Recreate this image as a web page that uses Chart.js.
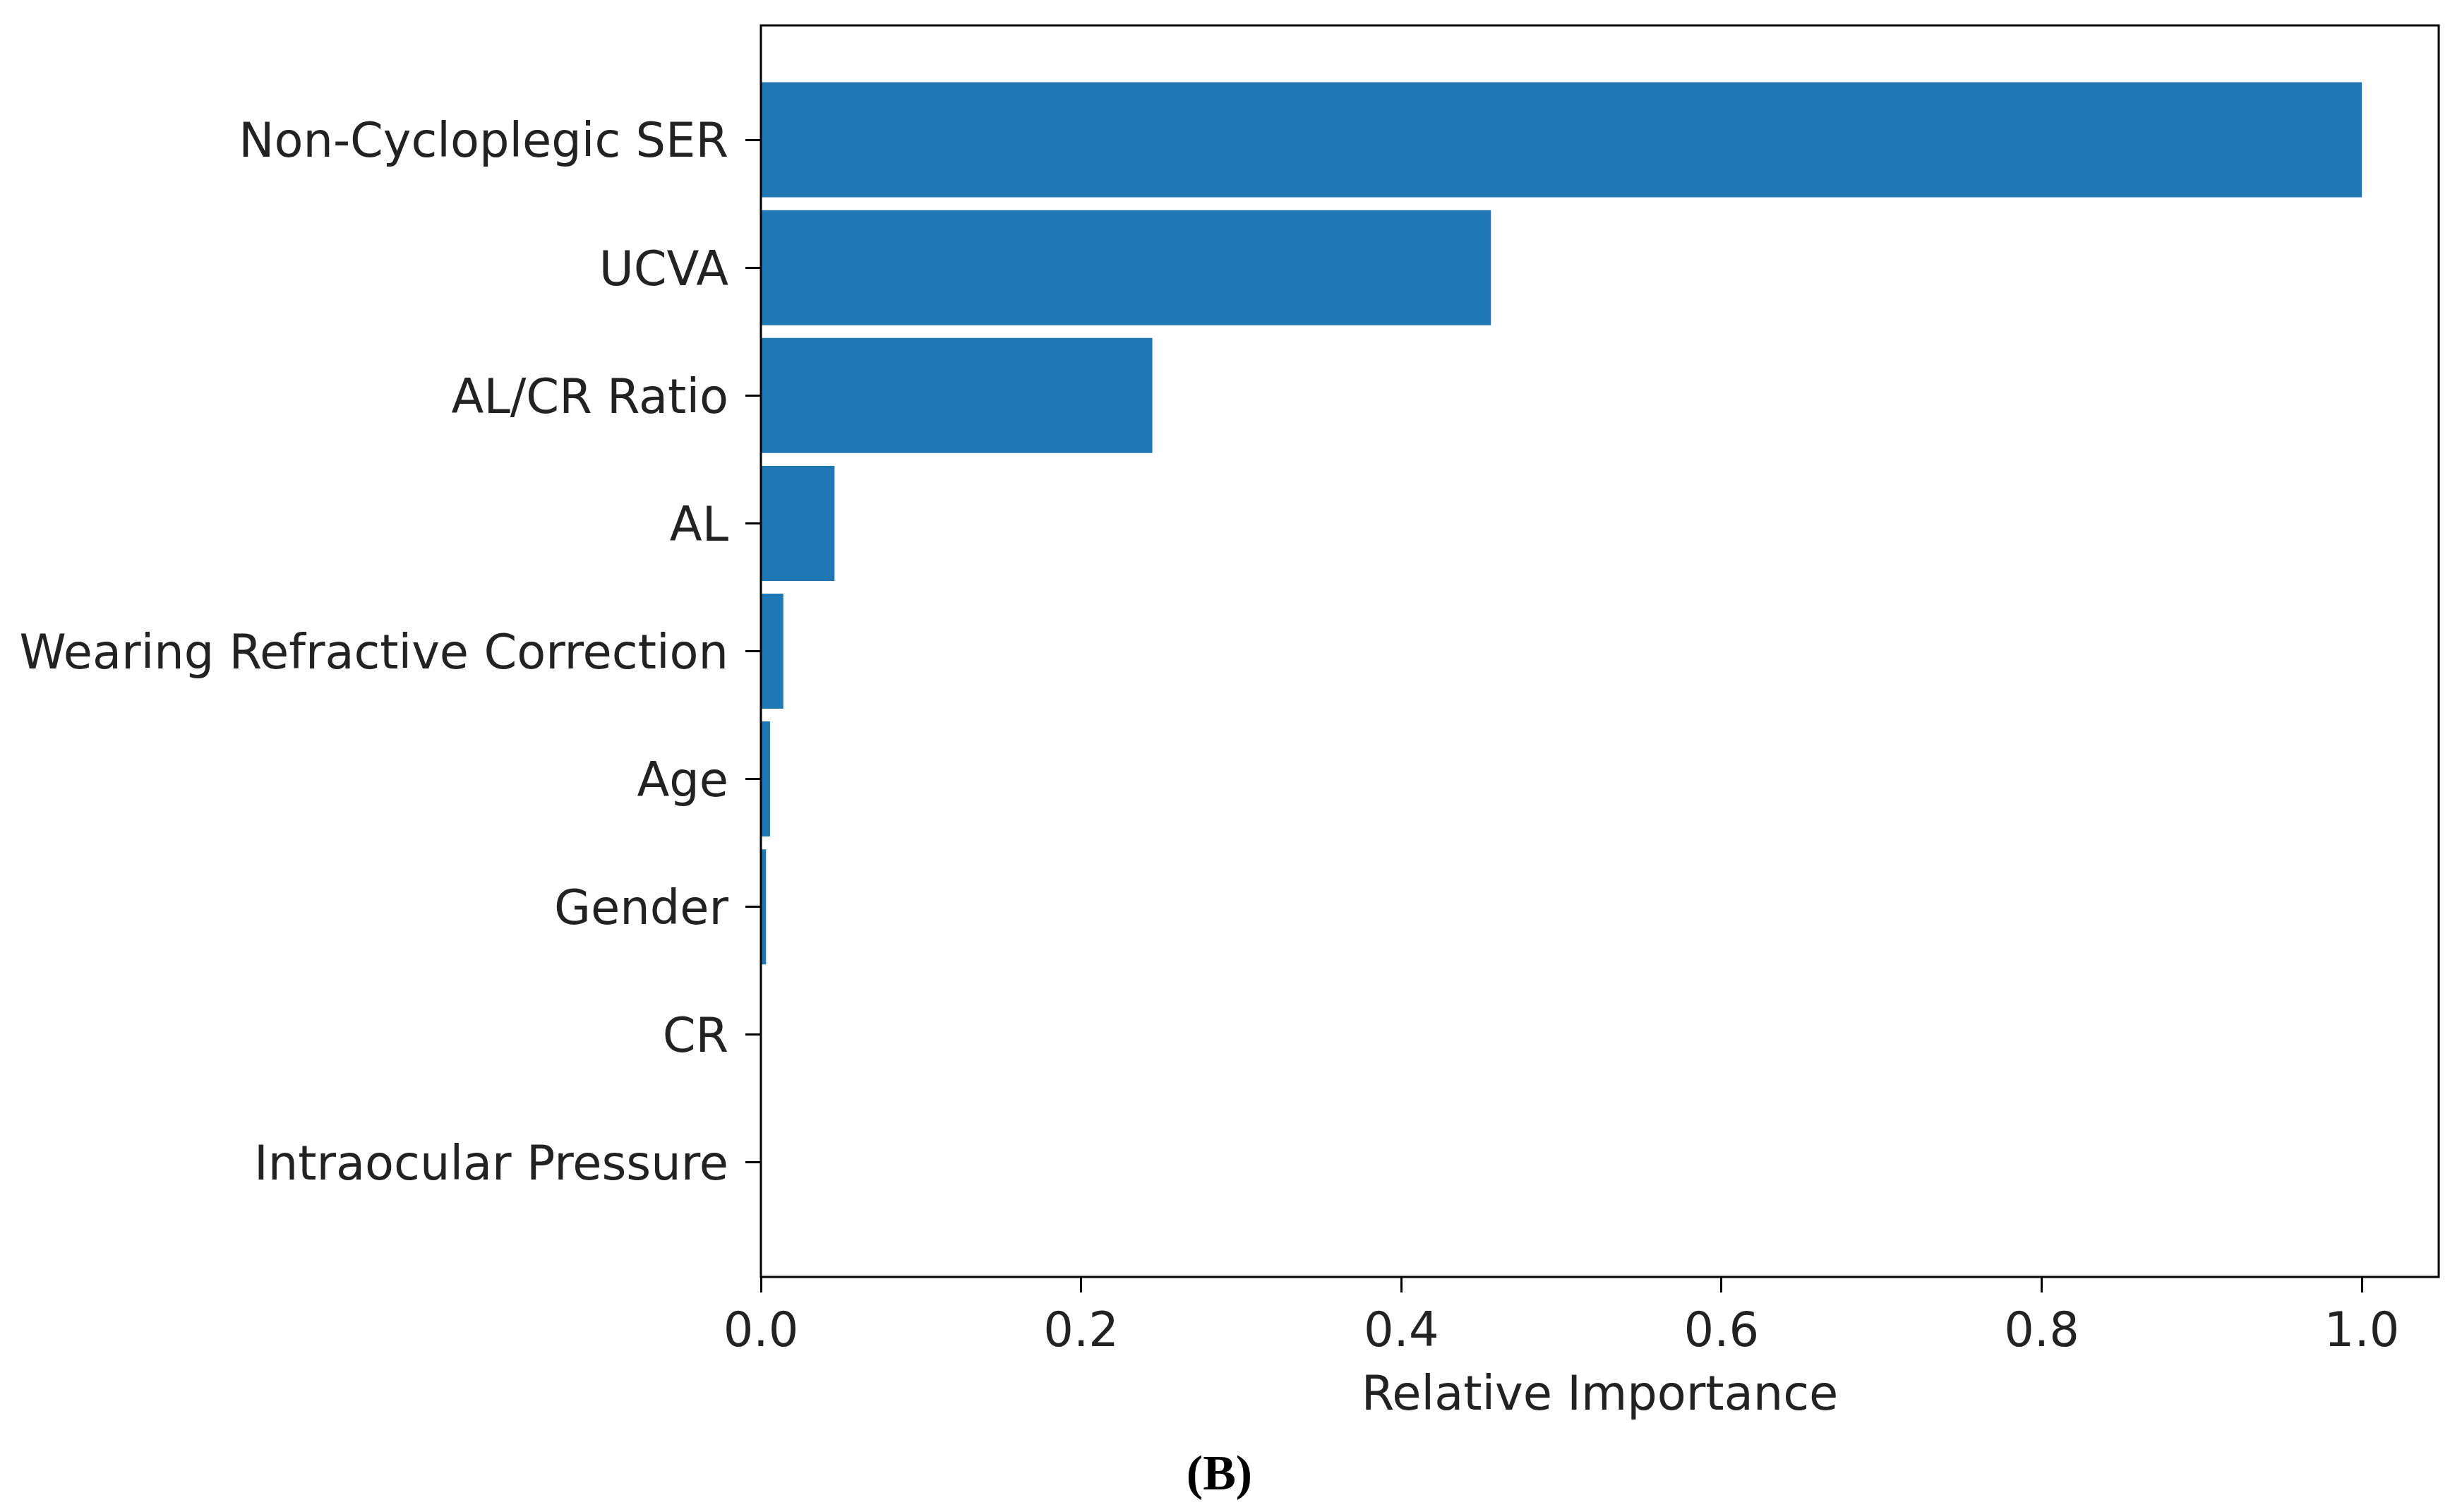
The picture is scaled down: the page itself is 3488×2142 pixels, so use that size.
<!DOCTYPE html>
<html lang="en">
<head>
  <meta charset="UTF-8">
  <title>Relative Importance</title>
  <script src="https://cdn.jsdelivr.net/npm/chart.js"></script>
  <style>
    html, body { margin: 0; padding: 0; background: #fff; }
    #wrap { width: 3488px; height: 2142px; }
  </style>
</head>
<body>
  <div id="wrap"><canvas id="chart"></canvas></div>
  <script>
    // data
    const features = [
      'Non-Cycloplegic SER', 'UCVA', 'AL/CR Ratio', 'AL',
      'Wearing Refractive Correction', 'Age', 'Gender', 'CR', 'Intraocular Pressure'
    ];
    const importance = [1.0, 0.456, 0.2445, 0.046, 0.014, 0.0057, 0.0032, 0.0, 0.0];
    const xTicks = [0, 0.2, 0.4, 0.6, 0.8, 1.0];

    const FONT = 'DejaVu Sans';
    const fs = 67;

    // box around plot, like matplotlib spines
    const frame = {
      id: 'frame',
      afterDraw(chart) {
        const { ctx, chartArea: a } = chart;
        ctx.save();
        ctx.strokeStyle = '#000';
        ctx.lineWidth = 3;
        ctx.strokeRect(a.left, a.top, a.right - a.left, a.bottom - a.top);
        ctx.restore();
      }
    };

    new Chart(document.getElementById('chart'), {
      type: 'bar',
      data: {
        datasets: [{
          data: importance.map((v, i) => ({ x: v, y: i })),
          backgroundColor: '#1f77b4',
          borderWidth: 0,
          categoryPercentage: 1.0,
          barPercentage: 0.9
        }]
      },
      options: {
        indexAxis: 'y',
        responsive: true,
        maintainAspectRatio: false,
        animation: false,
        layout: { padding: { top: 36, right: 33, left: 0, bottom: 0 } },
        scales: {
          x: {
            type: 'linear',
            min: 0,
            max: 1.048,
            afterBuildTicks: s => { s.ticks = xTicks.map(v => ({ value: v })); },
            afterFit: s => { s.height = 241; s.paddingLeft = 0; s.paddingRight = 0; },
            grid: { drawOnChartArea: false, drawTicks: true, tickLength: 22, tickWidth: 3, tickColor: '#000' },
            border: { display: false },
            ticks: {
              padding: 18,
              color: '#222',
              font: { family: FONT, size: fs },
              callback: v => v.toFixed(1)
            },
            title: {
              display: true,
              text: 'Relative Importance',
              color: '#222',
              font: { family: FONT, size: fs },
              padding: { top: 0, bottom: 30 }
            }
          },
          y: {
            type: 'linear',
            reverse: true,
            offset: false,
            min: -0.895,
            max: 8.895,
            afterBuildTicks: s => { s.ticks = features.map((_, i) => ({ value: i })); },
            afterFit: s => { s.width = 1078; s.paddingTop = 0; s.paddingBottom = 0; },
            grid: { offset: false, drawOnChartArea: false, drawTicks: true, tickLength: 22, tickWidth: 3, tickColor: '#000' },
            border: { display: false },
            ticks: {
              padding: 24,
              labelOffset: 7,
              autoSkip: false,
              color: '#222',
              font: { family: FONT, size: fs },
              callback: v => features[v]
            }
          }
        },
        plugins: {
          legend: { display: false },
          tooltip: { enabled: false },
          title: {
            display: true,
            position: 'bottom',
            text: '(B)',
            color: '#000',
            font: { family: 'Liberation Serif', size: 70, weight: 'bold' },
            padding: { top: 0, bottom: 8 }
          }
        }
      },
      plugins: [frame]
    });
  </script>
</body>
</html>
